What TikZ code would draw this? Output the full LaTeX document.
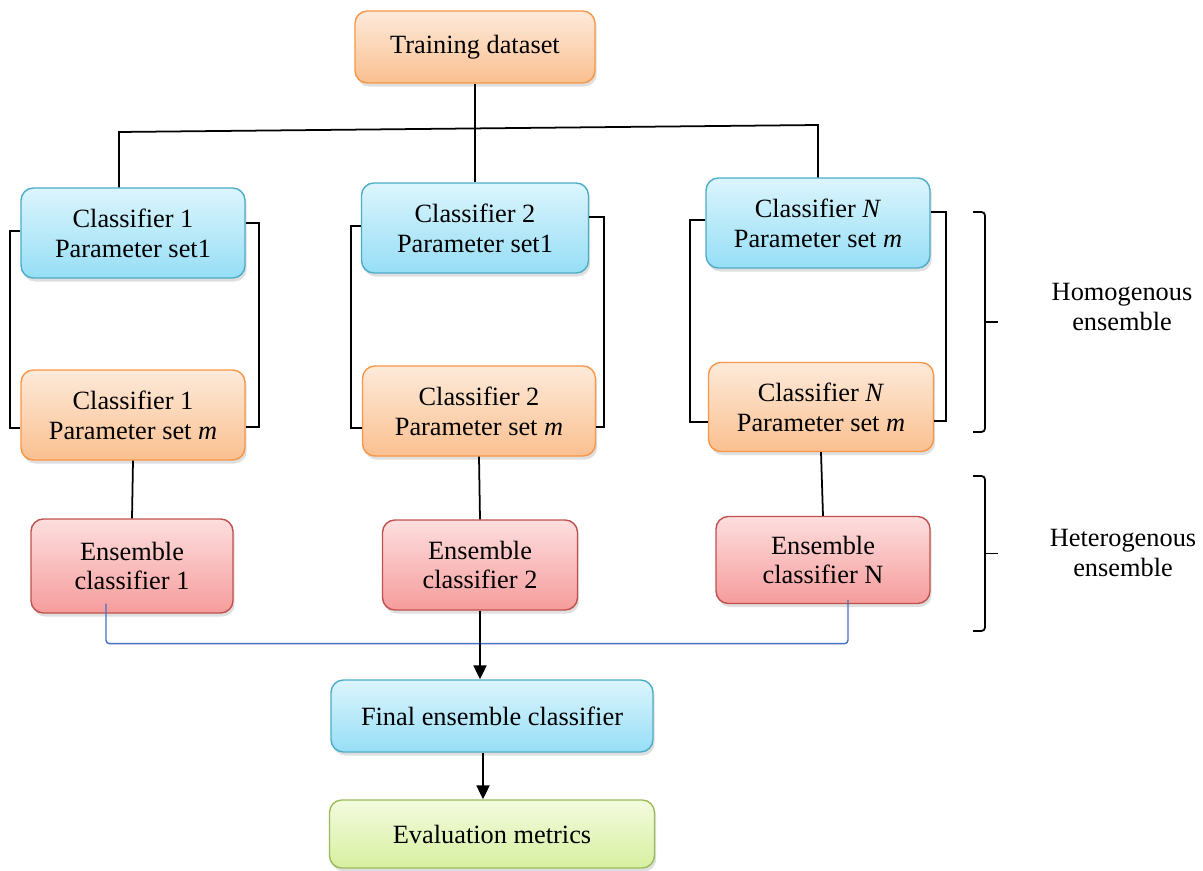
\documentclass[tikz,border=0pt]{standalone}
\usepackage{fontspec}
\setmainfont{Liberation Serif}
\usepackage{tikz}
\usetikzlibrary{
	arrows.meta,
	calc,
	shadows,
	positioning
}
\definecolor{OrangeTop}{RGB}{253,234,218}
\definecolor{OrangeBot}{RGB}{250,192,144}
\definecolor{OrangeLine}{RGB}{247,150,70}
\definecolor{BlueTop}{RGB}{220,245,253}
\definecolor{BlueBot}{RGB}{150,222,246}
\definecolor{BlueLine}{RGB}{75,172,198}
\definecolor{RedTop}{RGB}{253,222,222}
\definecolor{RedBot}{RGB}{246,156,156}
\definecolor{RedLine}{RGB}{192,80,77}
\definecolor{GreenTop}{RGB}{243,251,222}
\definecolor{GreenBot}{RGB}{215,240,160}
\definecolor{GreenLine}{RGB}{155,187,89}
\definecolor{LinkBlue}{RGB}{68,114,196}

\begin{document}
\begin{tikzpicture}[x=0.02cm, y=-0.02cm,
	font=\fontsize{15}{17}\selectfont,
	box/.style={rectangle, rounded corners=7pt, line width=0.8pt, align=center,
		inner sep=0pt, minimum width=4.48cm, minimum height=1.8cm,
		drop shadow={shadow xshift=1pt, shadow yshift=-2pt, opacity=0.25}},
	orangebox/.style={box, draw=OrangeLine, top color=OrangeTop, bottom color=OrangeBot},
	bluebox/.style={box, draw=BlueLine, top color=BlueTop, bottom color=BlueBot},
	redbox/.style={box, draw=RedLine, top color=RedTop, bottom color=RedBot},
	greenbox/.style={box, draw=GreenLine, top color=GreenTop, bottom color=GreenBot},
	link/.style={line width=1pt},
	flow/.style={line width=1pt, -{Triangle[length=8pt, width=7.5pt]}}]
		\useasboundingbox (0,0) rectangle (1203,871);
		% boxes
		\node[orangebox, minimum width=4.8cm, minimum height=1.44cm] (train) at (475,47) {Training dataset};
		\node[bluebox] (c1a) at (133,233) {Classifier 1\\Parameter set1};
		\node[orangebox] (c1b) at (133,415) {Classifier 1\\Parameter set \textit{m}};
		\node[bluebox, minimum width=4.54cm] (c2a) at (475,228) {Classifier 2\\Parameter set1};
		\node[orangebox, minimum width=4.66cm] (c2b) at (479,411) {Classifier 2\\Parameter set \textit{m}};
		\node[bluebox] (cNa) at (818,223) {Classifier \textit{N}\\Parameter set \textit{m}};
		\node[orangebox, minimum width=4.5cm, minimum height=1.78cm] (cNb) at (821,407) {Classifier \textit{N}\\Parameter set \textit{m}};
		\node[redbox, minimum width=4.04cm, minimum height=1.88cm] (e1) at (132,566) {Ensemble\\classifier 1};
		\node[redbox, minimum width=3.9cm] (e2) at (480,565) {Ensemble\\classifier 2};
		\node[redbox, minimum width=4.28cm, minimum height=1.74cm] (eN) at (823,560) {Ensemble\\classifier N};
		\node[bluebox, minimum width=6.44cm, minimum height=1.44cm] (final) at (492,716) {Final ensemble classifier};
		\node[greenbox, minimum width=6.5cm, minimum height=1.36cm] (eval) at (492,834) {Evaluation metrics};
		% labels
		\node[align=center, fill=white] (homlab) at (1122,307) {Homogenous\\ensemble};
		\node[align=center, fill=white] (hetlab) at (1123,553) {Heterogenous\\ensemble};
		% split of the training data
		\coordinate (busL) at (119,132);
		\coordinate (busR) at (818,125);
		\draw[link] (train.south) -- (c2a.north);
		\draw[link] (busL |- c1a.north) -- (busL) -- (busR) -- (cNa.north);
		% brackets round each column
		\draw[link] ($(c1a.west)+(0,-2)$) -- ++(-10,0) |- ($(c1b.west)+(0,13)$);
		\draw[link] ($(c1a.east)+(0,-10)$) -- ++(13,0) |- ($(c1b.east)+(0,12)$);
		\draw[link] ($(c2a.west)+(0,-2)$) -- ++(-10,0) |- ($(c2b.west)+(0,17)$);
		\draw[link] ($(c2a.east)+(0,-11)$) -- ++(15,0) |- ($(c2b.east)+(0,16)$);
		\draw[link] ($(cNa.west)+(0,-3)$) -- ++(-15,0) |- ($(cNb.west)+(0,15)$);
		\draw[link] ($(cNa.east)+(0,-11)$) -- ++(15,0) |- ($(cNb.east)+(0,14)$);
		% groups
		\coordinate (homT) at (973,212);
		\coordinate (homB) at (973,432);
		\coordinate (hetT) at (973,476);
		\coordinate (hetB) at (973,631);
		\draw[link, rounded corners=2pt] (homT) -- ++(12,0) -- ($(homB)+(12,0)$) -- (homB);
		\draw[link] ($(homT)!0.5!(homB)+(12,0)$) -- ++(13,0);
		\draw[link, rounded corners=2pt] (hetT) -- ++(12,0) -- ($(hetB)+(12,0)$) -- (hetB);
		\draw[link] ($(hetT)!0.5!(hetB)+(12,0)$) -- ++(13,0);
		% ensembles
		\draw[link] (c1b.south) -- (e1.north);
		\draw[link] (c2b.south) -- (e2.north);
		\draw[link] (cNb.south) -- (eN.north);
		\draw[LinkBlue, line width=0.8pt, rounded corners=2pt] ($(e1.south)+(-26,-10)$) -- ++(0,40) -| ($(eN.south)+(25,-4)$);
		\draw[flow] (e2.south) -- (e2.south |- final.north);
		\draw[flow] ($(final.south)+(-9,0)$) -- ($(eval.north)+(-9,0)$);
	\end{tikzpicture}
\end{document}
